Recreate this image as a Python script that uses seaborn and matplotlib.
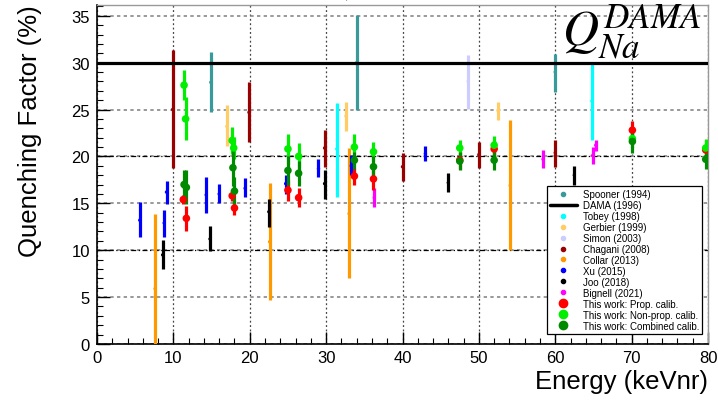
import numpy as np
import pandas as pd
import matplotlib
matplotlib.use("Agg")
import matplotlib.pyplot as plt
from matplotlib.lines import Line2D
import seaborn as sns

# literature points: energy, quenching value, bar low end, bar high end
spooner_E = [14.9, 34.0, 60.0]
spooner_Q = [27.9, 30.0, 29.0]
spooner_lo = [24.7, 25.0, 26.9]
spooner_hi = [31.1, 35.1, 30.9]

tobey_E = [31.4, 64.8]
tobey_Q = [20.8, 25.9]
tobey_lo = [15.7, 21.8]
tobey_hi = [25.7, 29.9]

gerbier_E = [17.0, 32.6, 52.5]
gerbier_Q = [23.2, 24.3, 24.9]
gerbier_lo = [21.1, 22.7, 23.9]
gerbier_hi = [25.5, 25.8, 25.8]

simon_E = [48.6]
simon_Q = [28.0]
simon_lo = [25.1]
simon_hi = [30.8]

chagani_E = [9.9, 19.9, 29.8, 40.0, 50.0, 60.0]
chagani_Q = [25.0, 24.7, 20.9, 18.9, 20.2, 20.4]
chagani_lo = [18.8, 21.5, 18.9, 17.4, 18.8, 18.9]
chagani_hi = [31.4, 27.9, 22.8, 20.4, 21.5, 21.8]

collar_E = [7.6, 22.6, 33.0, 54.1]
collar_Q = [5.9, 10.9, 13.9, 16.9]
collar_lo = [0.0, 4.7, 7.0, 10.0]
collar_hi = [13.9, 17.2, 20.9, 23.9]

xu_E = [5.6, 8.8, 9.1, 14.3, 16.0, 19.4, 24.7, 29.0, 33.3, 43.0, 52.0]
xu_Q = [13.2, 12.9, 16.2, 15.9, 16.0, 16.6, 17.1, 18.7, 19.0, 20.3, 21.0]
xu_lo = [11.4, 11.4, 14.9, 14.0, 15.0, 15.7, 16.0, 17.8, 18.0, 19.5, 20.5]
xu_hi = [15.1, 14.3, 17.4, 17.8, 17.1, 17.7, 18.0, 19.7, 20.2, 21.1, 21.6]

joo_E = [8.6, 14.8, 22.5, 29.8, 46.0, 62.5]
joo_Q = [9.5, 11.2, 14.1, 17.1, 17.2, 18.0]
joo_lo = [8.0, 9.9, 12.5, 15.5, 16.2, 17.0]
joo_hi = [11.1, 12.6, 15.5, 18.5, 18.2, 19.0]

bignell_E = [36.3, 58.4, 64.9, 65.3]
bignell_Q = [15.6, 19.7, 20.1, 21.2]
bignell_lo = [14.6, 18.8, 19.2, 20.6]
bignell_hi = [16.6, 20.7, 21.0, 21.8]

DAMA_Q = 30.0

# this work: energy, value, symmetric error
prop_E = [11.3, 11.7, 17.7, 18.0, 25.0, 26.4, 33.7, 36.2, 47.5, 52.0, 70.1, 79.7]
prop_Q = [15.4, 13.4, 15.8, 14.5, 16.4, 15.6, 17.9, 17.6, 19.6, 20.8, 22.8, 20.7]
prop_err = [0.5, 1.3, 0.6, 0.7, 1.1, 1.0, 0.9, 1.2, 0.9, 0.8, 1.0, 1.0]

nonprop_E = [11.4, 11.6, 17.7, 17.9, 25.0, 26.4, 33.7, 36.2, 47.5, 52.0, 70.1, 79.7]
nonprop_Q = [27.6, 24.0, 21.7, 20.9, 20.8, 20.0, 21.0, 20.5, 20.9, 21.2, 21.9, 20.9]
nonprop_err = [1.6, 2.3, 1.4, 1.2, 1.6, 1.4, 1.4, 1.0, 0.9, 1.0, 1.0, 1.0]

comb_E = [11.4, 11.7, 17.8, 18.0, 25.0, 26.4, 33.7, 36.2, 47.5, 52.0, 70.1, 79.7]
comb_Q = [17.0, 16.7, 18.8, 16.3, 18.5, 18.2, 19.6, 18.9, 19.5, 19.6, 21.6, 19.7]
comb_err = [1.5, 1.8, 2.0, 1.5, 1.5, 1.3, 0.9, 1.1, 1.0, 1.1, 1.2, 1.0]

literature = [
    ("Spooner (1994)", "#3a9a9a", spooner_E, spooner_Q, spooner_lo, spooner_hi),
    ("Tobey (1998)", "#00ffff", tobey_E, tobey_Q, tobey_lo, tobey_hi),
    ("Gerbier (1999)", "#ffcc66", gerbier_E, gerbier_Q, gerbier_lo, gerbier_hi),
    ("Simon (2003)", "#ccccff", simon_E, simon_Q, simon_lo, simon_hi),
    ("Chagani (2008)", "#990000", chagani_E, chagani_Q, chagani_lo, chagani_hi),
    ("Collar (2013)", "#ff9900", collar_E, collar_Q, collar_lo, collar_hi),
    ("Xu (2015)", "#0000ff", xu_E, xu_Q, xu_lo, xu_hi),
    ("Joo (2018)", "#000000", joo_E, joo_Q, joo_lo, joo_hi),
    ("Bignell (2021)", "#ff00ff", bignell_E, bignell_Q, bignell_lo, bignell_hi),
]
this_work = [
    ("This work: Prop. calib.", "#ff0000", prop_E, prop_Q, prop_err),
    ("This work: Non-prop. calib.", "#00ee00", nonprop_E, nonprop_Q, nonprop_err),
    ("This work: Combined calib.", "#008a00", comb_E, comb_Q, comb_err),
]

sns.set_theme(style="white")
plt.rcParams["font.family"] = ["Liberation Sans", "DejaVu Sans"]
plt.rcParams["mathtext.fontset"] = "stix"
plt.rcParams["text.color"] = "black"
plt.rcParams["axes.labelcolor"] = "black"
plt.rcParams["xtick.color"] = "black"
plt.rcParams["ytick.color"] = "black"

fig = plt.figure(figsize=(7.18, 4.02), dpi=100)
ax = fig.add_axes([97 / 718, 1 - 345 / 402, 611 / 718, 339.5 / 402])

# literature: thick bars with small centre dots
lit_rows = []
for name, color, E, Q, lo, hi in literature:
    ax.vlines(E, lo, hi, color=color, lw=2.3, zorder=3)
    lit_rows += [{"E": e, "Q": q, "src": name} for e, q in zip(E, Q)]
lit_df = pd.DataFrame(lit_rows)
sns.scatterplot(data=lit_df, x="E", y="Q", hue="src",
                palette={l[0]: l[1] for l in literature},
                s=6, edgecolor="none", legend=False, ax=ax, zorder=4)

ax.axhline(DAMA_Q, color="black", lw=2.3, zorder=5)

tw_rows = []
for name, color, E, Q, err in this_work:
    E, Q, err = map(np.asarray, (E, Q, err))
    ax.vlines(E, Q - err, Q + err, color=color, lw=2.3, zorder=6)
    tw_rows += [{"E": e, "Q": q, "src": name} for e, q in zip(E, Q)]
tw_df = pd.DataFrame(tw_rows)
sns.scatterplot(data=tw_df, x="E", y="Q", hue="src",
                palette={t[0]: t[1] for t in this_work},
                s=30, edgecolor="none", legend=False, ax=ax, zorder=7)

ax.set_xlim(0, 80)
ax.set_ylim(0, 36.2)
ax.set_xticks(np.arange(0, 81, 10))
ax.set_yticks(np.arange(0, 36, 5))
ax.set_xticks(np.arange(0, 81, 2), minor=True)
ax.set_yticks(np.arange(0, 36.2, 1), minor=True)
ax.tick_params(which="both", direction="in", top=False, right=False,
               left=True, bottom=True, color="black", labelcolor="black",
               labelsize=12)
ax.tick_params(which="major", length=9, width=1)
ax.tick_params(which="minor", length=4.5, width=0.8)
ax.tick_params(axis="x", pad=4)
ax.tick_params(axis="y", pad=5)

ax.xaxis.grid(True, which="major", color="#444444", ls=(0, (1.5, 2)), lw=0.9)
ax.yaxis.grid(True, which="major", color="#888888", ls=(0, (2, 2)), lw=1.2)
for yv in [10, 20]:
    ax.axhline(yv, color="black", ls=(0, (4, 2, 1, 2)), lw=0.9, zorder=1)
ax.set_axisbelow(True)

for side in ["left", "bottom"]:
    ax.spines[side].set_color("black")
    ax.spines[side].set_linewidth(1.2)
for side in ["top", "right"]:
    ax.spines[side].set_color("#999999")
    ax.spines[side].set_linewidth(1.0)

ax.set_xlabel("Energy (keVnr)", fontsize=18.5)
ax.set_ylabel("Quenching Factor (%)", fontsize=18.5)
ax.xaxis.set_label_coords(1.0, -0.075)
ax.xaxis.label.set_horizontalalignment("right")
ax.yaxis.set_label_coords(-0.09, 1.0)
ax.yaxis.label.set_horizontalalignment("right")

handles = []
labels = []
for name, color, *_ in literature[:1]:
    handles.append(Line2D([], [], marker="o", ls="", ms=3, color=color))
    labels.append(name)
handles.append(Line2D([], [], color="black", lw=2.5))
labels.append("DAMA (1996)")
for name, color, *_ in literature[1:]:
    handles.append(Line2D([], [], marker="o", ls="", ms=3, color=color))
    labels.append(name)
for name, color, *_ in this_work:
    handles.append(Line2D([], [], marker="o", ls="", ms=6, color=color))
    labels.append(name)
leg = ax.legend(handles, labels, loc="upper left", bbox_to_anchor=(0.736, 0.465),
                fontsize=7, frameon=True, fancybox=False, framealpha=1,
                edgecolor="black", borderpad=0.3, labelspacing=0.1,
                handlelength=2.8, handletextpad=0.6, borderaxespad=0)
leg.get_frame().set_linewidth(0.9)
leg.set_zorder(10)

fig.text(562 / 718, 1 - 45 / 402, r"$Q_{Na}^{DAMA}$", fontsize=36,
         ha="left", va="baseline", color="black")
fig.text(330 / 718, 1 + 1 / 402, r"$Na$", fontsize=24,
         ha="left", va="baseline", color="black")

fig.savefig("out.png", dpi=100)
plt.close(fig)
